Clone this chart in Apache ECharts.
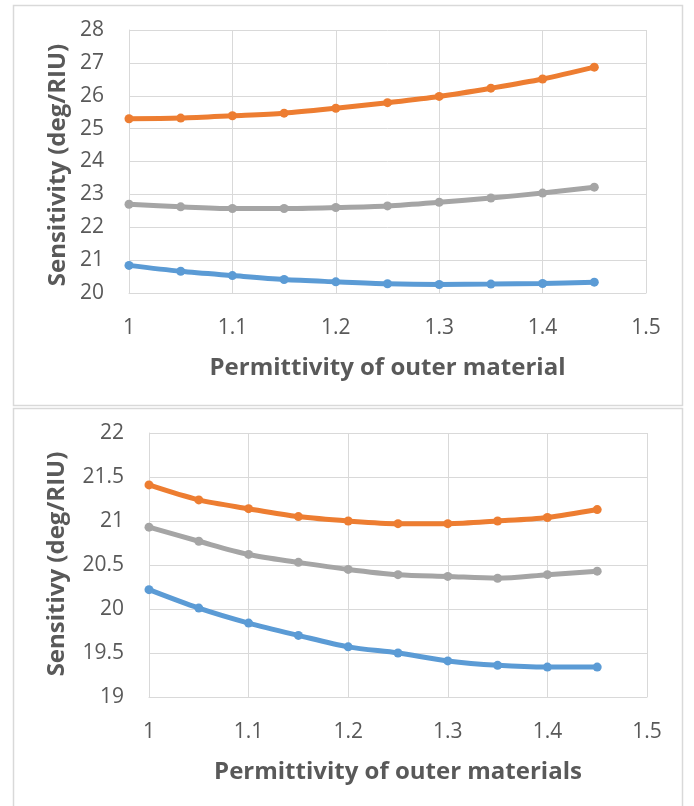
<!DOCTYPE html>
<html>
<head>
<meta charset="utf-8">
<title>Sensitivity vs permittivity</title>
<script src="https://cdn.jsdelivr.net/npm/echarts@6/dist/echarts.min.js"></script>
<style>
	html, body { margin: 0; padding: 0; background: #fff; }
	#chartS { width: 694px; height: 806px; }
</style>
</head>
<body>
<div id="chartS"></div>
<script>
// ============================================== 数据 ======================================================
// x values (permittivity), shared by both panels
var permittivity = [1, 1.05, 1.1, 1.15, 1.2, 1.25, 1.3, 1.35, 1.4, 1.45];

// top panel : Sensitivity (deg/RIU)
var topOrange = [25.30, 25.32, 25.39, 25.47, 25.62, 25.79, 25.98, 26.23, 26.51, 26.87];
var topGray   = [22.70, 22.62, 22.57, 22.57, 22.60, 22.65, 22.76, 22.89, 23.04, 23.22];
var topBlue   = [20.84, 20.66, 20.53, 20.41, 20.34, 20.28, 20.26, 20.27, 20.29, 20.33];

// bottom panel : Sensitivy (deg/RIU)
var botOrange = [21.41, 21.24, 21.14, 21.05, 21.00, 20.97, 20.97, 21.00, 21.04, 21.13];
var botGray   = [20.93, 20.77, 20.62, 20.53, 20.45, 20.39, 20.37, 20.35, 20.39, 20.43];
var botBlue   = [20.22, 20.01, 19.84, 19.70, 19.57, 19.50, 19.41, 19.36, 19.34, 19.34];

// ============================================== 样式 ======================================================
var ORANGE = '#ED7D31', GRAY = '#A5A5A5', BLUE = '#5B9BD5';
var gridColor = '#d9d9d9';
var labelFont = { color: '#595959', fontFamily: 'Open Sans', fontSize: 21 };
var titleFont = { color: '#595959', fontFamily: 'Open Sans', fontSize: 24, fontWeight: 'bold' };

function pairs(ys) {
	var out = [];
	for (var i = 0; i < permittivity.length; i++) out.push([permittivity[i], ys[i]]);
	return out;
}

function line(name, ys, color, idx) {
	return {
		name: name,
		type: 'line',
		xAxisIndex: idx,
		yAxisIndex: idx,
		data: pairs(ys),
		smooth: 0.3,
		symbol: 'circle',
		symbolSize: 9,
		lineStyle: { width: 5, color: color },
		itemStyle: { color: color },
		animation: false
	};
}

function xAxis(idx, title) {
	return {
		type: 'value', gridIndex: idx, min: 1, max: 1.5, interval: 0.1,
		axisLine: { show: true, lineStyle: { color: gridColor, width: 1 } },
		axisTick: { show: false },
		splitLine: { show: true, lineStyle: { color: gridColor, width: 1 } },
		axisLabel: Object.assign({ margin: 25 }, labelFont),
		name: title, nameLocation: 'middle', nameGap: 63,
		nameTextStyle: titleFont
	};
}

function yAxis(idx, min, max, step) {
	return {
		type: 'value', gridIndex: idx, min: min, max: max, interval: step,
		axisLine: { show: true, lineStyle: { color: gridColor, width: 1 } },
		axisTick: { show: false },
		splitLine: { show: true, lineStyle: { color: gridColor, width: 1 } },
		axisLabel: Object.assign({ margin: 25 }, labelFont)
	};
}

// rotated y title (drawn as graphic so it stays where Excel put it)
function yTitle(text, x, y) {
	return {
		type: 'text', x: x, y: y, rotation: Math.PI / 2, silent: true,
		style: {
			text: text, align: 'center', verticalAlign: 'middle',
			fill: titleFont.color, fontFamily: titleFont.fontFamily,
			fontSize: titleFont.fontSize, fontWeight: 'bold'
		}
	};
}

// ============================================== 图表 ======================================================
var myChart = echarts.init(document.getElementById('chartS'));
var option = {
	backgroundColor: '#fff',
	graphic: [
		{ type: 'rect', shape: { x: 13.5, y: 5.5, width: 669, height: 400 }, style: { fill: 'none', stroke: gridColor, lineWidth: 1.5 }, silent: true },
		{ type: 'rect', shape: { x: 13.5, y: 408.5, width: 669, height: 400 }, style: { fill: 'none', stroke: gridColor, lineWidth: 1.5 }, silent: true },
		yTitle('Sensitivity (deg/RIU)', 58, 165),
		yTitle('Sensitivy (deg/RIU)', 57, 564)
	],
	grid: [
		{ left: 129, top: 30, width: 517, height: 263 },
		{ left: 149, top: 433, width: 498, height: 264 }
	],
	xAxis: [
		xAxis(0, 'Permittivity of outer material'),
		xAxis(1, 'Permittivity of outer materials')
	],
	yAxis: [
		yAxis(0, 20, 28, 1),
		yAxis(1, 19, 22, 0.5)
	],
	series: [
		line('top-orange', topOrange, ORANGE, 0),
		line('top-gray', topGray, GRAY, 0),
		line('top-blue', topBlue, BLUE, 0),
		line('bot-orange', botOrange, ORANGE, 1),
		line('bot-gray', botGray, GRAY, 1),
		line('bot-blue', botBlue, BLUE, 1)
	]
};
myChart.setOption(option);
</script>
</body>
</html>
